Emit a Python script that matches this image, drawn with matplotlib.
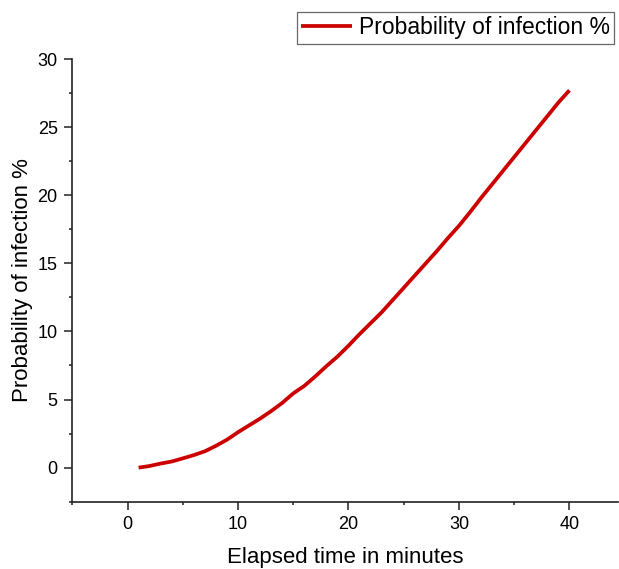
import matplotlib
matplotlib.use("Agg")
import matplotlib.pyplot as plt
from matplotlib.ticker import MultipleLocator

plt.rcParams['font.family'] = ['Liberation Sans', 'DejaVu Sans']

minutes = list(range(1, 41))
probability = [0.0, 0.12, 0.3, 0.45, 0.68, 0.92, 1.2, 1.6, 2.05, 2.6,
               3.1, 3.6, 4.15, 4.75, 5.45, 6.0, 6.7, 7.45, 8.15, 8.95,
               9.8, 10.6, 11.4, 12.3, 13.2, 14.1, 15.0, 15.9, 16.85, 17.75,
               18.75, 19.8, 20.8, 21.8, 22.8, 23.8, 24.8, 25.8, 26.8, 27.7]
series_label = "Probability of infection %"
x_label = "Elapsed time in minutes"
y_label = "Probability of infection %"

fig = plt.figure(figsize=(6.19, 5.69), dpi=100)
ax = fig.add_axes([0.1168, 0.1183, 0.8816, 0.778])
ax.plot(minutes, probability, color='#CC0000', lw=2.7, label=series_label,
        solid_capstyle='butt')

ax.set_xlim(-5, 44.4)
ax.set_ylim(-2.5, 30)
ax.xaxis.set_major_locator(MultipleLocator(10))
ax.xaxis.set_minor_locator(MultipleLocator(5))
ax.yaxis.set_major_locator(MultipleLocator(5))
ax.yaxis.set_minor_locator(MultipleLocator(2.5))
for s in ['top', 'right']:
    ax.spines[s].set_visible(False)
for s in ['left', 'bottom']:
    ax.spines[s].set_linewidth(1.2)
    ax.spines[s].set_color('#222222')
ax.tick_params(which='major', length=5.5, width=1.1, labelsize=13, color='#222222', pad=5)
ax.tick_params(which='minor', length=2.5, width=1.1, color='#222222')
ax.set_xlabel(x_label, fontsize=16, labelpad=10)
ax.set_ylabel(y_label, fontsize=16, labelpad=3)

leg = ax.legend(loc='upper right', bbox_to_anchor=(0.993, 1.107), fontsize=16.5,
                frameon=True, fancybox=False, handlelength=2.2, borderpad=0.2,
                handletextpad=0.3, borderaxespad=0)
leg.get_frame().set_edgecolor('#444444')
leg.get_frame().set_linewidth(0.9)

fig.savefig('out.png', dpi=100)
